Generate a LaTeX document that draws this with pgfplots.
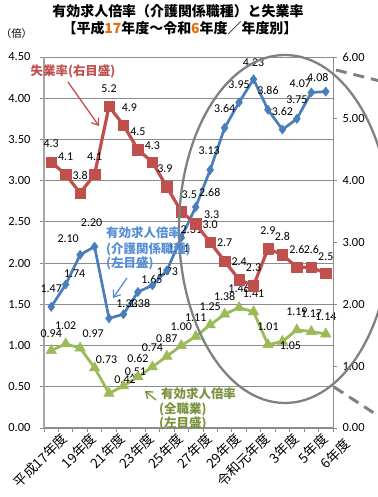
\documentclass[border=0pt]{standalone}
\usepackage{pgfplots}
\pgfplotsset{compat=1.18}
\usepackage{pgfplotstable}
\usepackage{fontspec}
\setmainfont{Carlito}
\newfontfamily\cjk{Noto Sans CJK JP}
\usetikzlibrary{arrows.meta}
\definecolor{cblue}{RGB}{74,126,187}
\definecolor{cred}{RGB}{192,80,77}
\definecolor{cgreen}{RGB}{155,187,89}
\definecolor{tblue}{RGB}{85,142,213}
\definecolor{tgreen}{RGB}{119,147,60}
\definecolor{gridgray}{RGB}{140,140,140}
\definecolor{axgray}{RGB}{165,165,165}
\definecolor{elgray}{RGB}{128,128,128}
\definecolor{torange}{RGB}{228,108,10}

\pgfplotstableread{
x y dx dy
0 1.47 0 18
1 1.74 9 11
2 2.10 -12 16
3 2.20 -3 24
4 1.33 18 15
5 1.38 16 11
6 1.65 14 12
7 1.73 15 14
8 1.91 12 22
9 2.31 10 8
10 2.68 14 15
11 3.13 -1 19
12 3.64 0 19
13 3.95 0 18
14 4.23 0 17
15 3.86 0 19
16 3.62 0 18
17 3.75 0 19
18 4.07 -11 9
19 4.08 -8 14
}\careTab

\pgfplotstableread{
x y dx dy
0 0.94 0 17
1 1.02 0 18
2 0.97 13 14
3 0.73 12 8
4 0.42 16 14
5 0.51 12 14
6 0.62 0 18
7 0.74 0 19
8 0.87 0 18
9 1.00 0 19
10 1.11 0 19
11 1.25 0 18
12 1.38 0 18
13 1.46 0 19
14 1.41 0 18
15 1.01 0 18
16 1.05 8 -4
17 1.19 0 18
18 1.17 0 18
19 1.14 0 17
}\allTab

\pgfplotstableread{
x y dx dy
0 4.3 0 18
1 4.1 0 18
2 3.8 0 18
3 4.1 0 18
4 5.2 0 18
5 4.9 6 17
6 4.5 0 18
7 4.3 0 16
8 3.9 -2 18
9 3.5 8 17
10 3.3 16 9
11 3.0 0 18
12 2.7 0 18
13 2.4 0 18
14 2.3 0 18
15 2.9 0 18
16 2.8 0 18
17 2.6 0 18
18 2.6 0 18
19 2.5 0 17
}\unempTab

\pgfplotsset{
  dlab/.style={
    nodes near coords={\pgfmathprintnumber[fixed,fixed zerofill,precision=#1,assume math mode=true]{\pgfplotspointmeta}},
    point meta=explicit,
    visualization depends on={\thisrow{dx}\as\ldx},
    visualization depends on={\thisrow{dy}\as\ldy},
    every node near coord/.append style={anchor=center, inner sep=0pt, text=black,
      font=\fontsize{12}{12}\selectfont, xshift=\ldx bp, yshift=\ldy bp},
  },
  base/.style={
    at={(44bp,69bp)}, anchor=south west, scale only axis,
    width=289bp, height=371bp,
    xmin=-0.5, xmax=19.5,
    /pgf/number format/assume math mode=true,
    clip=false,
  }
}

\begin{document}
\begin{tikzpicture}
\useasboundingbox (0,0) rectangle (378bp,497bp);

\begin{axis}[base,
  ymin=0, ymax=4.5,
  ytick={0,0.5,...,4.5},
  axis x line*=bottom, axis y line*=left,
  x axis line style={draw=gridgray, line width=1bp, -},
  y axis line style={draw=axgray, line width=2bp, -},
  ymajorgrids, grid style={draw=gridgray, line width=0.9bp},
  xtick={-0.5,0.5,...,19.5}, xticklabels={},
  tick align=outside, major tick length=4bp,
  tick style={draw=gridgray, line width=0.9bp},
  extra x ticks={0,2,4,6,8,10,12,14,16,18},
  extra x tick labels={平成17年度,19年度,21年度,23年度,25年度,27年度,29年度,令和元年度,3年度,5年度},
  extra x tick style={major tick length=0pt, grid=none,
    xticklabel style={rotate=45, anchor=north east, inner sep=0pt, xshift=4bp, yshift=-9bp,
      font=\cjk\fontsize{13.5}{14}\selectfont}},
  yticklabel style={/pgf/number format/fixed, /pgf/number format/fixed zerofill,
    /pgf/number format/precision=2, font=\fontsize{12.5}{13}\selectfont, xshift=-6bp},
]
\addplot[color=cblue, line width=2.7bp, mark=diamond*, mark size=4.6bp,
  mark options={fill=cblue, draw=cblue, line width=0.5bp}, dlab=2]
  table[x=x, y=y, meta=y] {\careTab};
\addplot[color=cgreen, line width=2.8bp, mark=triangle*, mark size=6bp,
  mark options={fill=cgreen, draw=cgreen, line width=0.5bp}, dlab=2]
  table[x=x, y=y, meta=y] {\allTab};
\end{axis}

\begin{axis}[base,
  ymin=0, ymax=6,
  ytick={0,1,...,6},
  axis x line=none, axis y line*=right,
  y axis line style={draw=gridgray, line width=1bp, -},
  tick align=outside, major tick length=4bp,
  tick style={draw=gridgray, line width=0.9bp},
  yticklabel style={/pgf/number format/fixed, /pgf/number format/fixed zerofill,
    /pgf/number format/precision=2, font=\fontsize{12.5}{13}\selectfont, xshift=2bp},
]
\addplot[color=cred, line width=3.2bp, mark=square*, mark size=5.2bp,
  mark options={fill=cred, draw=cred, line width=0.5bp}, dlab=1]
  table[x=x, y=y, meta=y] {\unempTab};
\end{axis}

% last category label (set slightly right, as in the reference)
\node[rotate=45, anchor=north east, inner sep=0pt, font=\cjk\fontsize{13.5}{14}\selectfont] at (343bp,60bp) {6年度};

% ellipse and callout lines
\draw[elgray, line width=2.3bp] (285bp,268bp) ellipse [x radius=106bp, y radius=174bp];
\draw[elgray, line width=3bp, dash pattern=on 11bp off 7bp] (336bp,427bp) -- (380bp,416bp);
\draw[elgray, line width=3bp, dash pattern=on 11bp off 7bp] (334bp,110bp) -- (380bp,80bp);

% titles
\node[font=\cjk\bfseries\fontsize{14}{14}\selectfont, inner sep=0pt] at (178bp,485.5bp) {有効求人倍率（介護関係職種）と失業率};
\node[font=\cjk\bfseries\fontsize{14}{14}\selectfont, inner sep=0pt] at (180bp,469bp) {【平成\textcolor{torange}{17}年度～令和\textcolor{torange}{6}年度／年度別】};
\node[font=\cjk\fontsize{10.5}{11}\selectfont, inner sep=0pt] at (16.5bp,463bp) {（倍）};

% annotations
\node[font=\cjk\bfseries\fontsize{12.5}{13}\selectfont, text=cred, inner sep=0pt] at (73bp,426bp) {失業率(右目盛)};
\draw[cred, line width=1.3bp, -{Straight Barb[length=6bp,width=9bp]}] (68bp,415bp) -- (99bp,371bp);

\node[font=\cjk\bfseries\fontsize{12.5}{13}\selectfont, text=tblue, inner sep=0pt, anchor=west] at (106bp,264bp) {有効求人倍率};
\node[font=\cjk\bfseries\fontsize{12.5}{13}\selectfont, text=tblue, inner sep=0pt, anchor=west] at (106bp,248bp) {(介護関係職種)};
\node[font=\cjk\bfseries\fontsize{12.5}{13}\selectfont, text=tblue, inner sep=0pt, anchor=west] at (106bp,234bp) {(左目盛)};
\draw[tblue, line width=1.3bp, -{Straight Barb[length=6bp,width=9bp]}] (127bp,219bp) -- (113bp,199bp);

\node[font=\cjk\bfseries\fontsize{12.5}{13}\selectfont, text=tgreen, inner sep=0pt, anchor=west] at (161bp,103bp) {有効求人倍率};
\node[font=\cjk\bfseries\fontsize{12.5}{13}\selectfont, text=tgreen, inner sep=0pt, anchor=west] at (159bp,88bp) {(全職業)};
\node[font=\cjk\bfseries\fontsize{12.5}{13}\selectfont, text=tgreen, inner sep=0pt, anchor=west] at (159bp,74bp) {(左目盛)};
\draw[tgreen, line width=1.3bp, -{Straight Barb[length=6bp,width=9bp]}] (156bp,97bp) -- (145bp,106bp);
\end{tikzpicture}
\end{document}
